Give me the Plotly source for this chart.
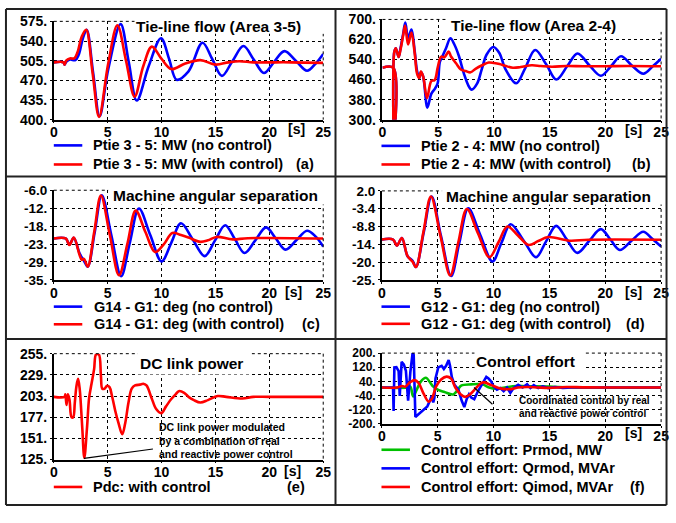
import plotly.graph_objects as go

# Figure size: full window width; height kept a little under the window height so the
# page never overflows (an overflowing page gets shrunk when it is photographed).
REF_W, REF_H = 676, 523
W, H = 676, 515

# ---------------- data ----------------
time_ticks = [0, 5, 10, 15, 20, 25]
time_tick_text = ["0", "5", "10", "15", "20", "25"]

# (a) Tie-line flow (Area 3-5), MW
a_t_nc = [0, 0.9, 1.0, 1.15, 1.5, 2.0, 2.3, 2.7, 3.05, 3.65, 4.25, 5.05, 6.2, 6.95, 7.7, 8.8, 9.95,
          10.7, 11.4, 12.5, 13.8, 14.7, 15.6, 16.6, 17.6, 18.55, 19.5, 20.45, 21.4, 22.45, 23.5, 24.3, 25]
a_nc = [502, 502, 498, 503, 507, 506, 515, 545, 560, 483, 406, 490, 570, 503, 434, 495, 545,
        508, 471, 486, 537, 508, 478, 505, 531, 507, 483, 503, 522, 505, 487, 500, 517]
a_t_wc = [0, 0.9, 1.0, 1.15, 1.5, 1.9, 2.2, 2.6, 3.0, 3.6, 4.2, 5.05, 5.9, 6.7, 7.5, 8.3, 9.1, 10.0,
          10.9, 12.2, 13.6, 15.0, 16.2, 17.2, 18.5, 20, 22, 25]
a_wc = [502, 502, 498, 505, 509, 509, 520, 548, 560, 483, 405, 500, 568, 505, 441, 495, 530, 508,
        490, 500, 506, 498, 502, 504, 502, 502, 502, 501]
a_ytick = [400, 435, 470, 505, 540, 575]
a_ytext = ["400.", "435.", "470.", "505.", "540.", "575."]

# (b) Tie-line flow (Area 2-4), MW
b_t_nc = [0, 0.97, 1.0, 1.06, 1.2, 1.45, 1.6, 1.85, 2.05, 2.3, 2.6, 2.9, 3.1, 3.3, 3.45, 3.65, 4.03,
          4.38, 4.68, 4.95, 5.15, 5.4, 5.7, 6.1, 6.45, 6.85, 7.3, 7.7, 8.0, 8.5, 8.9, 9.35, 9.95,
          10.5, 11.0, 12.0, 12.8, 13.7, 14.7, 15.6, 16.6, 17.5, 18.6, 19.6, 20.5, 21.4, 22.4, 23.4,
          24.3, 25]
b_nc = [507, 507, 200, 570, 585, 550, 580, 640, 688, 625, 660, 570, 495, 466, 490, 473, 348,
        403, 422, 445, 530, 555, 585, 625, 600, 555, 485, 437, 420, 445, 500, 560, 590,
        565, 505, 445, 505, 578, 520, 460, 515, 564, 515, 475, 513, 553, 515, 483,
        515, 543]
b_t_wc = [0, 0.97, 1.0, 1.06, 1.2, 1.45, 1.6, 1.85, 2.03, 2.3, 2.6, 2.9, 3.1, 3.3, 3.45, 3.65, 4.0,
          4.38, 4.68, 4.97, 5.26, 5.56, 5.94, 6.15, 6.6, 7.03, 7.47, 7.9, 8.35, 8.94, 9.53, 10.0,
          10.5, 11.0, 11.7, 12.4, 13.4, 14.2, 15.2, 16.5, 18, 20, 22, 25]
b_wc = [507, 507, 200, 570, 585, 550, 575, 635, 676, 600, 648, 562, 485, 466, 492, 473, 386,
        454, 458, 511, 551, 549, 572, 552, 525, 500, 494, 489, 503, 517, 528, 526,
        522, 515, 507, 510, 517, 514, 511, 514, 513, 513, 514, 513]
b_ytick = [300, 380, 460, 540, 620, 700]
b_ytext = ["300.", "380.", "460.", "540.", "620.", "700."]

# (c) G14 - G1 angle, deg
c_t_nc = [0, 1.1, 1.45, 1.85, 2.4, 2.8, 3.15, 3.8, 4.45, 5.35, 6.25, 7.05, 7.9, 8.95, 10.0, 10.9,
          11.8, 12.9, 14.0, 14.95, 15.9, 16.8, 17.7, 18.7, 19.7, 20.6, 21.5, 22.5, 23.5, 24.3, 25]
c_nc = [-21.6, -21.6, -23.6, -21.4, -26.5, -28.8, -30.7, -19.5, -7.6, -20.7, -33.8, -23, -11.9,
        -20.5, -29.0, -23, -16.7, -22, -27.3, -22.3, -17.3, -21.8, -26.3, -22.2, -18.0, -21.6,
        -25.2, -22.2, -19.1, -21.0, -24.2]
c_t_wc = [0, 1.1, 1.45, 1.85, 2.4, 2.6, 2.8, 3.15, 3.75, 4.37, 5.2, 6.05, 6.85, 7.6, 8.5, 9.4,
          10.2, 11.0, 11.8, 12.5, 13.6, 14.3, 15.1, 16.6, 18, 25]
c_wc = [-21.6, -21.6, -23.7, -21.3, -27, -28.5, -28.2, -30.7, -19.5, -7.7, -20.5, -33.5, -23,
        -12.6, -19.5, -26.0, -23.5, -19.8, -20.5, -21.3, -22.7, -22.2, -21.1, -21.9, -21.5, -21.6]
c_ytick = [-35, -29.2, -23.4, -17.6, -11.8, -6.0]
c_ytext = ["-35.", "-29.", "-23.", "-18.", "-12.", "-6.0"]

# (d) G12 - G1 angle, deg
d_t_nc = [0, 1.0, 1.35, 1.79, 2.3, 2.75, 3.05, 3.75, 4.45, 5.3, 6.2, 6.95, 7.73, 8.8, 9.9, 10.7,
          11.53, 12.7, 13.8, 14.7, 15.6, 16.55, 17.5, 18.55, 19.6, 20.45, 21.3, 22.35, 23.4, 24.2, 25]
d_nc = [-12.75, -12.75, -14.6, -12.3, -17.8, -19.2, -21.1, -10.5, 0.3, -11.8, -23.8, -13.5, -3.3,
        -11.3, -19.4, -13.8, -8.1, -13.1, -18.1, -13.3, -8.6, -12.7, -16.8, -13.2, -9.6, -12.7,
        -15.9, -13.1, -10.4, -12.5, -14.9]
d_t_wc = [0, 1.0, 1.35, 1.79, 2.3, 2.75, 3.05, 3.72, 4.39, 5.25, 6.12, 6.85, 7.61, 8.6, 9.63,
          10.45, 11.24, 12.2, 13.14, 14.0, 14.9, 16.8, 18.5, 25]
d_wc = [-12.75, -12.75, -14.6, -12.3, -17.8, -19.5, -21.1, -10.5, 0.3, -11.7, -23.65, -13.5,
        -3.5, -10.8, -18.1, -13.5, -8.8, -11.6, -14.4, -13.2, -12.0, -13.1, -12.8, -12.8]
d_ytick = [-25, -19.6, -14.2, -8.8, -3.4, 2.0]
d_ytext = ["-25.", "-20.", "-14.", "-8.8", "-3.4", "2.0"]

# (e) DC link power, MW
e_t = [0, 1.0, 1.07, 1.18, 1.3, 1.45, 1.65, 1.8, 1.95, 2.1, 2.25, 2.4, 2.5, 2.65, 2.83, 3.07,
       3.28, 3.5, 3.74, 3.92, 4.18, 4.37, 4.5, 4.7, 4.95, 5.17, 5.4, 5.7, 6.0, 6.35, 6.63, 6.93,
       7.23, 7.54, 8.0, 8.3, 8.6, 9.06, 9.5, 9.97, 10.4, 10.88, 11.3, 11.6, 12.1, 12.5, 13.0,
       13.6, 14.3, 15.2, 16.0, 17.5, 18.5, 20, 25]
e_pdc = [202, 202, 205, 192, 205, 199, 177, 177, 195, 215, 224, 212, 195, 162, 127, 162,
         201, 218, 236, 254, 254, 228, 212, 212, 215.6, 214, 203, 185, 170, 156, 170, 195,
         212, 216, 217, 218, 216, 201, 187, 182, 190, 199, 205, 209, 207, 202, 198,
         195, 198, 203, 202, 200, 202, 202, 202]
e_ytick = [125, 151, 177, 203, 229, 255]
e_ytext = ["125.", "151.", "177.", "203.", "229.", "255."]

# (f) control effort
f_t_pr = [0, 2.3, 2.55, 2.8, 3.1, 3.5, 3.95, 4.3, 4.6, 5.1, 5.6, 6.4, 6.8, 7.1, 8.0, 9.0, 9.6,
          10.2, 11.0, 12.0, 13.0, 15.0, 17.0, 25]
f_pr = [5, 5, 10, -45, -10, 40, 60, 35, 10, -10, -20, -34, -7, 16, 23, 23, 5, -2, 5, 14, 12, 10, 5, 5]
f_t_qr = [0, 1.0, 1.05, 1.12, 1.3, 1.5, 1.6, 1.77, 1.97, 2.15, 2.35, 2.55, 2.75, 2.85, 3.0, 3.3,
          3.6, 4.07, 4.3, 4.45, 4.6, 4.7, 4.8, 5.05, 5.35, 5.55, 5.75, 5.98, 6.1, 6.26, 6.5, 6.85,
          7.15, 7.38, 7.6, 7.8, 8.0, 8.27, 8.6, 9.05, 9.35, 9.55, 9.8, 10.0, 10.3, 10.6, 10.9,
          11.2, 11.5, 11.8, 12.2, 12.6, 13.0, 13.3, 13.6, 14.0, 14.4, 14.9, 15.5, 16.2, 17.0, 25]
f_qr = [5, 5, -128, 119, 120, 98, -43, 150, 135, 100, -70, 92, 200, 190, -162, -144,
        -126, -102, -70, -43, -79, -55, 56, 119, 128, 110, 128, 160, 128, 65, 20, -7,
        -70, -106, -60, -34, -52, -61, -16, 38, 65, 56, 38, 11, -7, 2, -16,
        5, -25, 2, 20, 5, 23, 2, 18, 2, 12, 2, 8, 3, 5, 5]
f_t_qi = [0, 1.35, 1.8, 2.1, 2.5, 2.96, 3.3, 3.7, 4.18, 4.45, 4.86, 5.3, 5.8, 6.2, 6.6, 7.06,
          7.44, 7.86, 8.4, 8.85, 9.15, 9.6, 10.0, 10.45, 11.0, 11.6, 12.2, 13, 14, 15, 16.5, 18, 20, 25]
f_qi = [5, 5, 14, 10, 34, 47, 29, -25, -75, -62, 11, 50, 67, 55, 2, -34, -48, -35, 0, 29, 34,
        24, 14, 2, -4, -4, 5, 8, 5, 3, 8, 6, 5, 5]
f_ytick = [-200, -120, -40, 40, 120, 200]
f_ytext = ["-200.", "-120.", "-40.", "40.", "120.", "200."]

# ---------------- styling / layout ----------------
BLUE, RED, GREEN = "#0000ff", "#ff0000", "#00c000"
FONT = "Liberation Sans, Arial, sans-serif"


def px(x):
    return min(1.0, max(0.0, x / REF_W))


def py(y):
    return min(1.0, max(0.0, 1 - y / REF_H))


panels = [
    dict(box=(50.7, 14, 325, 117), yr=(400, 575), yt=a_ytick, ytt=a_ytext, yfs=14,
         title="Tie-line flow (Area 3-5)", tpos=(218.5, 19.5), white=(133, 10, 326, 27),
         s=(298, 127), letter=("(a)", 306, 163.3),
         series=[(a_t_nc, a_nc, BLUE, "spline", "Ptie 3 - 5: MW (no control)"),
                 (a_t_wc, a_wc, RED, "spline", "Ptie 3 - 5: MW (with control)")],
         leg=(50.7, 88.3, [144, 164])),
    dict(box=(385.3, 12, 669, 117), yr=(300, 700), yt=b_ytick, ytt=b_ytext, yfs=14,
         title="Tie-line flow (Area 2-4)", tpos=(539.3, 18), white=(452, 8, 670, 25),
         s=(641, 127.5), letter=("(b)", 649.3, 164),
         series=[(b_t_nc, b_nc, BLUE, "spline", "Ptie 2 - 4: MW (no control)"),
                 (b_t_wc, b_wc, RED, "spline", "Ptie 2 - 4: MW (with control)")],
         leg=(384.3, 422, [144.5, 164])),
    dict(box=(50.7, 191, 325, 285), yr=(-35, -6), yt=c_ytick, ytt=c_ytext, yfs=13.5,
         title="Machine angular separation", tpos=(215, 197), white=(106, 188, 326, 206),
         s=(294.5, 298), letter=("(c)", 312.5, 331.5),
         series=[(c_t_nc, c_nc, BLUE, "spline", "G14 - G1: deg (no control)"),
                 (c_t_wc, c_wc, RED, "spline", "G14 - G1: deg (with control)")],
         leg=(50.7, 89.3, [313, 331.5])),
    dict(box=(384.7, 191.7, 669, 285), yr=(-25, 2), yt=d_ytick, ytt=d_ytext, yfs=13.5,
         title="Machine angular separation", tpos=(554.3, 197.5), white=(446, 188, 670, 206),
         s=(641, 297.7), letter=("(d)", 642.7, 331),
         series=[(d_t_nc, d_nc, BLUE, "spline", "G12 - G1: deg (no control)"),
                 (d_t_wc, d_wc, RED, "spline", "G12 - G1: deg (with control)")],
         leg=(384.3, 422, [313, 331])),
    dict(box=(50.7, 362.3, 325, 473.3), yr=(125, 255), yt=e_ytick, ytt=e_ytext, yfs=14,
         title="DC link power", tpos=(191.3, 372.5), white=(136, 359, 252, 384),
         s=(294, 485.5), letter=("(e)", 297.5, 502),
         series=[(e_t, e_pdc, RED, "spline", "Pdc: with control")],
         leg=(50.7, 88.3, [502])),
    dict(box=(384.7, 361.7, 669, 435.7), yr=(-200, 200), yt=f_ytick, ytt=f_ytext, yfs=12,
         title="Control effort", tpos=(531, 370), white=(479, 358, 590, 380),
         s=(641, 445), letter=("(f)", 645, 502),
         series=[(f_t_pr, f_pr, GREEN, "spline", "Control effort: Prmod, MW"),
                 (f_t_qr, f_qr, BLUE, "linear", "Control effort: Qrmod, MVAr"),
                 (f_t_qi, f_qi, RED, "spline", "Control effort: Qimod, MVAr")],
         leg=(384.3, 422, [463, 482.5, 502])),
]

fig = go.Figure()
layout = dict(width=W, height=H, margin=dict(l=0, r=0, t=0, b=0, pad=0),
              paper_bgcolor="white", plot_bgcolor="white", showlegend=False,
              font=dict(family=FONT, color="black"))
shapes = []
annotations = []

for i, p in enumerate(panels, start=1):
    sfx = "" if i == 1 else str(i)
    x0, y0, x1, y1 = p["box"]
    common = dict(showgrid=True, gridcolor="black", gridwidth=1, griddash="3px,3px",
                  showline=True, linecolor="black", linewidth=1.6, ticks="outside",
                  ticklen=2, tickwidth=1.3, tickcolor="black", zeroline=False, fixedrange=True)
    layout["xaxis" + sfx] = dict(domain=[px(x0), px(x1)], range=[0, 25], anchor="y" + sfx,
                                tickmode="array", tickvals=time_ticks, ticktext=time_tick_text,
                                tickfont=dict(family=FONT, size=14, color="black", weight="bold"),
                                ticklabelstandoff=-3, **common)
    layout["yaxis" + sfx] = dict(domain=[py(y1), py(y0)], range=list(p["yr"]), anchor="x" + sfx,
                                tickmode="array", tickvals=p["yt"], ticktext=p["ytt"],
                                tickfont=dict(family=FONT, size=p["yfs"], color="black",
                                              weight="bold"),
                                **common)

    for (t, v, col, shp, name) in p["series"]:
        fig.add_trace(go.Scatter(x=t, y=v, mode="lines", name=name,
                                 line=dict(color=col, width=2.6, shape=shp, smoothing=1.0),
                                 xaxis="x" + sfx, yaxis="y" + sfx, showlegend=False))

    # dashed top and right frame of the plot area
    for (sx0, sy0, sx1, sy1) in [(x0, y0, x1, y0), (x1, y0, x1, y1)]:
        shapes.append(dict(type="line", xref="paper", yref="paper", x0=px(sx0), y0=py(sy0),
                           x1=px(sx1), y1=py(sy1),
                           line=dict(color="black", width=1, dash="3px,3px")))
    # white box behind the title
    wx0, wy0, wx1, wy1 = p["white"]
    shapes.append(dict(type="rect", xref="paper", yref="paper",
                       x0=px(wx0), x1=px(wx1), y0=py(wy1), y1=py(wy0),
                       fillcolor="white", line=dict(width=0), layer="above"))
    annotations.append(dict(text=p["title"], x=px(p["tpos"][0]), y=py(p["tpos"][1]),
                            xref="paper", yref="paper", showarrow=False, xanchor="center",
                            yanchor="middle", font=dict(family=FONT, size=15.5, weight="bold")))
    annotations.append(dict(text="[s]", x=px(p["s"][0]), y=py(p["s"][1]),
                            xref="paper", yref="paper", showarrow=False, xanchor="center",
                            yanchor="middle", font=dict(family=FONT, size=14, weight="bold")))
    lt, lx, ly = p["letter"]
    annotations.append(dict(text=lt, x=px(lx), y=py(ly), xref="paper", yref="paper",
                            showarrow=False, xanchor="center", yanchor="middle",
                            font=dict(family=FONT, size=14.5, weight="bold")))
    # legend entries
    lx0, tx, ys = p["leg"]
    for (t, v, col, shp, name), yy in zip(p["series"], ys):
        shapes.append(dict(type="line", xref="paper", yref="paper", x0=px(lx0), x1=px(lx0 + 29),
                           y0=py(yy), y1=py(yy), line=dict(color=col, width=2.6)))
        annotations.append(dict(text=name, x=px(tx), y=py(yy), xref="paper", yref="paper",
                                showarrow=False, xanchor="left", yanchor="middle",
                                font=dict(family=FONT, size=14.5, weight="bold")))

# annotation pointers and notes
shapes.append(dict(type="line", xref="x5", yref="y5", x0=2.8, y0=126.5, x1=9.2, y1=138,
                   line=dict(color="black", width=1.2)))
shapes.append(dict(type="line", xref="x6", yref="y6", x0=8.25, y0=5, x1=9.9, y1=-90,
                   line=dict(color="black", width=1.2)))
annotations.append(dict(text="DC link power modulated<br>by a combination of real<br>"
                             "and reactive power control",
                        x=px(155.5), y=py(453.3), xref="paper", yref="paper", showarrow=False,
                        xanchor="left", yanchor="middle", align="left",
                        font=dict(family=FONT, size=10.5, weight="bold")))
annotations.append(dict(text="Coordinated control by real<br>and reactive power control",
                        x=px(522.5), y=py(418.4), xref="paper", yref="paper", showarrow=False,
                        xanchor="left", yanchor="middle", align="left",
                        font=dict(family=FONT, size=10, weight="bold")))

# panel frame and separators
FR = dict(color="#222222", width=2)
for (sx0, sy0, sx1, sy1) in [(2, 1, 674.5, 1), (2, 521, 674.5, 521), (2, 1, 2, 521),
                             (674.5, 1, 674.5, 521), (337.5, 1, 337.5, 521),
                             (2, 176.5, 674.5, 176.5), (2, 347, 674.5, 347)]:
    shapes.append(dict(type="line", xref="paper", yref="paper", x0=px(sx0), y0=py(sy0),
                       x1=px(sx1), y1=py(sy1), line=FR, layer="above"))

layout["shapes"] = shapes
layout["annotations"] = annotations
fig.update_layout(**layout)
fig.write_html("out.html")
